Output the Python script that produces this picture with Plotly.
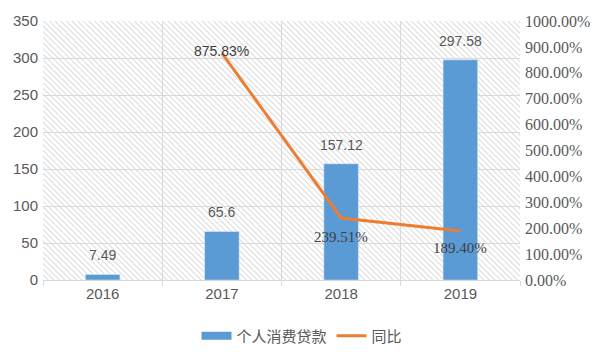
import base64
import plotly.graph_objects as go

years = ["2016", "2017", "2018", "2019"]
loans = [7.49, 65.6, 157.12, 297.58]
yoy_years = ["2017", "2018", "2019"]
yoy = [8.7583, 2.3951, 1.8940]
yoy_labels = ["875.83%", "239.51%", "189.40%"]
loan_labels = ["7.49", "65.6", "157.12", "297.58"]

BLUE = "#5B9BD5"
ORANGE = "#ED7D31"
TXT = "#595959"
GRID = "#D9D9D9"
SANS = "Liberation Sans, Noto Sans CJK SC, sans-serif"
SERIF = "Liberation Serif, serif"
CJK = "Noto Sans CJK SC, sans-serif"

# page body has an 8px default margin; size the figure to fit the 604x356 window
W, H = 588, 340
ML, MT = 35, 13
PW, PH = 477, 259
MR, MB = W - ML - PW, H - MT - PH

svg = (
    f'<svg xmlns="http://www.w3.org/2000/svg" width="{PW}" height="{PH}" viewBox="0 0 {PW} {PH}">'
    '<defs><pattern id="h" width="4" height="4" patternUnits="userSpaceOnUse" patternTransform="rotate(-45)">'
    '<rect width="4" height="4" fill="white"/>'
    '<line x1="0" y1="0" x2="0" y2="4" stroke="#C4C4C4" stroke-width="1.2"/></pattern></defs>'
    f'<rect width="{PW}" height="{PH}" fill="url(#h)"/></svg>'
)
src = "data:image/svg+xml;base64," + base64.b64encode(svg.encode()).decode()

fig = go.Figure()
fig.add_trace(go.Bar(x=years, y=loans, name="个人消费贷款", marker_color=BLUE,
                     width=0.29, yaxis="y", showlegend=False, legendgroup="loan"))
fig.add_trace(go.Scatter(x=[None], y=[None], name="个人消费贷款", mode="lines",
                         line=dict(color=BLUE, width=8), legendgroup="loan", yaxis="y"))
fig.add_trace(go.Scatter(x=yoy_years, y=yoy, name="同比", mode="lines",
                         line=dict(color=ORANGE, width=3), yaxis="y2"))

ann = []
for x, v, t in zip(years, loans, loan_labels):
    ann.append(dict(x=years.index(x), y=v, xref="x", yref="y", text=t, showarrow=False,
                    yshift=19, font=dict(size=14, color=TXT, family=SANS)))
shifts = [2, -19, -17]
fonts = [dict(size=14, color="#404040", family=SANS),
         dict(size=15, color="#404040", family=SERIF),
         dict(size=15, color="#404040", family=SERIF)]
for x, v, t, s, f in zip(yoy_years, yoy, yoy_labels, shifts, fonts):
    ann.append(dict(x=years.index(x), y=v, xref="x", yref="y2", text=t, showarrow=False,
                    yshift=s, font=f))

fig.update_layout(
    width=W, height=H,
    margin=dict(l=ML, r=MR, t=MT, b=MB),
    paper_bgcolor="white", plot_bgcolor="white",
    font=dict(family=SANS, size=15, color=TXT),
    images=[dict(source=src, xref="paper", yref="paper", x=0, y=1, sizex=1, sizey=1,
                 xanchor="left", yanchor="top", sizing="stretch", layer="below")],
    xaxis=dict(type="category", categoryorder="array", categoryarray=years,
               range=[-0.5, 3.5], autorange=False, automargin=False,
               tickson="boundaries", showgrid=True, gridcolor=GRID,
               ticks="outside", ticklen=5, tickcolor=GRID, showline=True, linecolor=GRID,
               tickfont=dict(size=15, color=TXT, family=SANS)),
    yaxis=dict(range=[0, 350], dtick=50, showgrid=True, gridcolor=GRID, zeroline=False,
               automargin=False,
               tickfont=dict(size=15, color=TXT, family=SANS), ticklabelstandoff=4),
    yaxis2=dict(range=[0, 10], dtick=1, tickformat=".2%", overlaying="y", side="right",
                showgrid=False, zeroline=False, automargin=False,
                tickfont=dict(size=16, color=TXT, family=SERIF), ticklabelstandoff=4),
    showlegend=True,
    legend=dict(orientation="h", xref="container", yref="container", x=0.5,
                y=1 - 328 / H, xanchor="center", yanchor="middle",
                font=dict(size=15, color=TXT, family=CJK), itemwidth=30),
    annotations=ann,
)
fig.write_html("out.html")
